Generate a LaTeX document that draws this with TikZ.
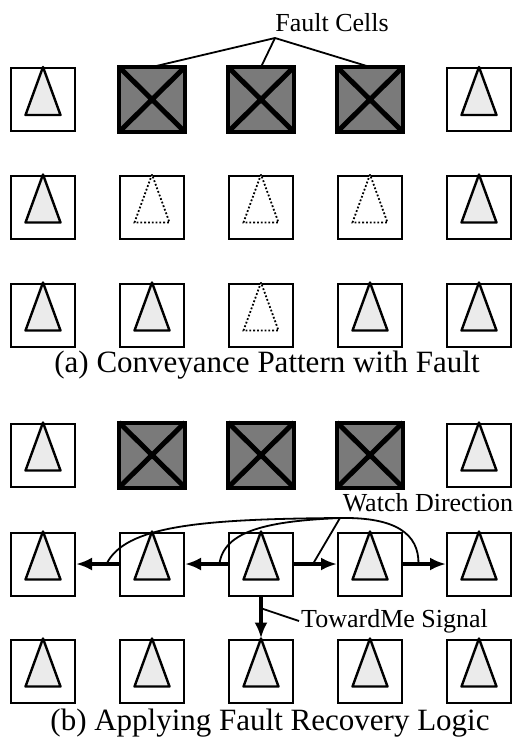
\documentclass[tikz,border=0pt]{standalone}
\usepackage{fontspec}
\setmainfont{Liberation Serif}
\usetikzlibrary{arrows.meta,calc}

\begin{document}
\begin{tikzpicture}[x=1pt,y=-1pt,
    cell/.style={draw,line width=2pt,minimum width=64pt,minimum height=63pt,inner sep=0pt},
    fault/.style={draw,fill=black!52,line width=4pt},
    cross/.style={line width=5pt},
    tri/.style={line width=2.4pt,fill=black!8,line join=round},
    ghost/.style={line width=1.8pt,dotted,fill=white},
    sig/.style={-{Latex[length=16pt,width=13pt]},line width=3.5pt},
    lead/.style={line width=1.8pt},
    lbl/.style={font=\fontsize{26}{30}\selectfont,inner sep=2pt},
    captxt/.style={font=\fontsize{31}{36}\selectfont,inner sep=0pt}
  ]
    \useasboundingbox (0,0) rectangle (516,742);
    \foreach \r/\y in {a1/99.5,a2/207,a3/315,b1/455,b2/564,b3/671}
      \foreach \c in {1,...,5} {\node[cell] (\r\c) at ({43+(\c-1)*109},\y) {};}
    \foreach \n in {a12,a13,a14,b12,b13,b14} {\draw[fault] (\n.north west) rectangle (\n.south east);
      \draw[cross] (\n.north west)--(\n.south east) (\n.north east)--(\n.south west);}
    \foreach \n in {a11,a15,a21,a25,a31,a32,a34,a35,b11,b15,b21,b22,b23,b24,b25,b31,b32,b33,b34,b35}
      {\draw[tri] (\n.north)--([xshift=-17.5pt,yshift=17pt]\n.south)--([xshift=17.5pt,yshift=17pt]\n.south)--cycle;}
    \foreach \n in {a22,a23,a24,a33}
      {\draw[ghost] (\n.north)--([xshift=-17.5pt,yshift=17pt]\n.south)--([xshift=17.5pt,yshift=17pt]\n.south)--cycle;}
    \node[lbl] (fc) at (332,23) {Fault Cells};
    \coordinate (fcj) at (275,38);
    \foreach \n in {a12,a13,a14} {\draw[lead] (fcj)--(\n.north);}
    \node[captxt] (capa) at (267,365) {(a) Conveyance Pattern with Fault};
    \foreach \s/\t in {b23/b22,b22/b21} {\draw[sig] (\s.west)--(\t.east);}
    \foreach \s/\t in {b23/b24,b24/b25} {\draw[sig] (\s.east)--(\t.west);}
    \draw[sig] (b23.south)--(b33.north);
    \node[lbl] (wdl) at (428,503) {Watch Direction};
    \coordinate (wd) at (340,518);
    \draw[lead] (wd) .. controls (200,519) and (125,526) .. ($(b21.east)!.71!(b22.west)$);
    \draw[lead] (wd) .. controls (270,521) and (224,530) .. ($(b22.east)!.8!(b23.west)$);
    \draw[lead] (wd)--($(b23.east)!.44!(b24.west)$);
    \draw[lead] (wd) .. controls (396,517) and (419,534) .. ($(b24.east)!.36!(b25.west)$);
    \node[lbl,anchor=west] (tm) at (299,621) {TowardMe Signal};
    \draw[lead] (tm.west)--($(b23.south)!.28!(b33.north)$);
    \node[captxt] (capb) at (270,723) {(b) Applying Fault Recovery Logic};
  \end{tikzpicture}
\end{document}
